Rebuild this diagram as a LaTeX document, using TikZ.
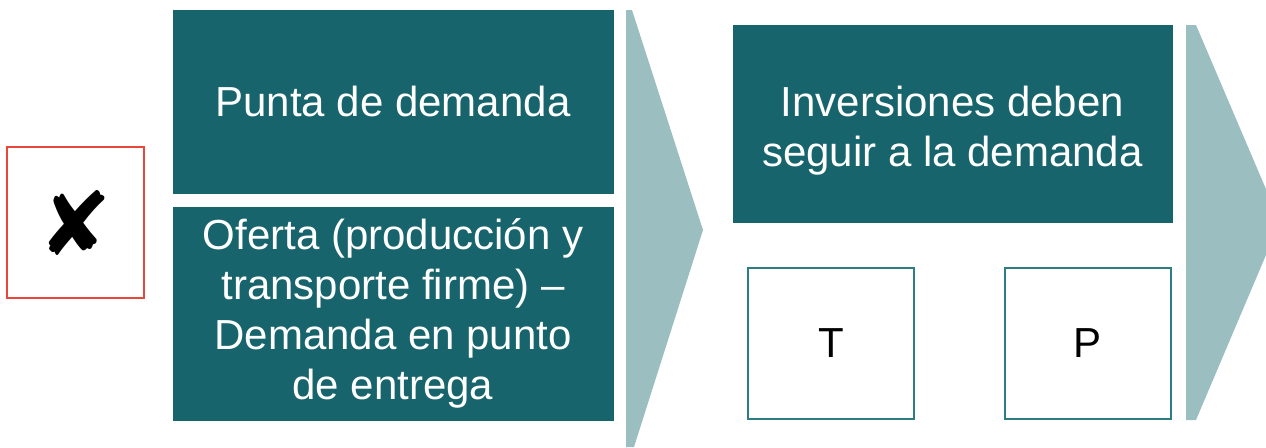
\documentclass[tikz,border=0pt]{standalone}
\usepackage{fontspec}
\setmainfont{Liberation Sans}
\newfontfamily\symfont{DejaVu Sans}
\definecolor{tealdark}{HTML}{17646C}
\definecolor{teallight}{HTML}{9BBFC1}
\definecolor{tealline}{HTML}{2E7D83}
\definecolor{redline}{HTML}{E8473A}
\tikzset{
  tealbox/.style={fill=tealdark, draw=tealdark, text=white, align=center,
    font=\fontsize{21}{25}\selectfont, inner sep=0pt},
  tealtext/.style={text=white, align=center, font=\fontsize{21}{25}\selectfont, inner sep=0pt},
  whitebox/.style={draw=tealline, line width=1pt, fill=white,
    font=\fontsize{21}{25}\selectfont, inner sep=0pt},
  chevron/.style={fill=teallight, draw=none}
}
\begin{document}
\begin{tikzpicture}[x=0.5pt,y=-0.5pt]
\useasboundingbox (0,0) rectangle (1266,447);
\clip (0,0) rectangle (1266,447);
% left mark
\node [draw=redline, line width=1pt, minimum width=68.5pt, minimum height=75.5pt, inner sep=0pt] (cross) at (75.5,222.5) {\symfont\fontsize{44}{44}\selectfont ✘};
% first column
\node [tealbox, minimum width=220pt, minimum height=91.5pt] (punta) at (393,101.5) {Punta de demanda};
\node [tealbox, minimum width=220pt, minimum height=106.5pt] (oferta) at (393,313.5) {Oferta (producción y\\transporte firme) –\\Demanda en punto\\de entrega};
\draw [chevron] (626,10) -- (632,10) -- (703,230) -- (634,447) -- (626,447) -- cycle;
% second column
\node [tealbox, minimum width=219.5pt, minimum height=98.5pt] (inversiones) at (952.5,123.5) {};
\node [tealtext, yshift=-3.5pt] (inversionestext) at (inversiones) {Inversiones deben\\seguir a la demanda};
\node [whitebox, minimum width=83pt, minimum height=75.5pt] (t) at (831,343.5) {T};
\node [whitebox, minimum width=83pt, minimum height=75.5pt] (p) at (1088,343.5) {P};
\draw [chevron] (1186,25) -- (1196,25) -- (1280,222) -- (1196,420) -- (1186,420) -- cycle;
\end{tikzpicture}
\end{document}
